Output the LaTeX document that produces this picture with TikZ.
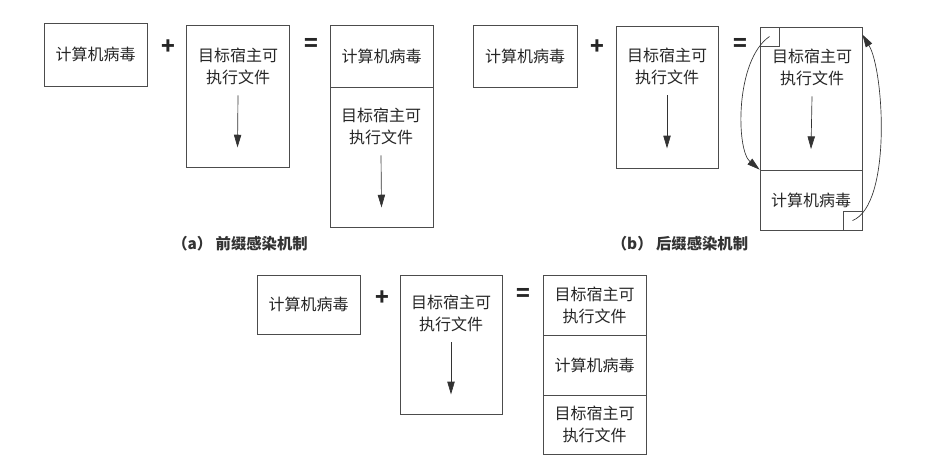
\documentclass[tikz,border=0pt]{standalone}
\usepackage{fontspec}
\setmainfont{Noto Sans CJK SC}
\usetikzlibrary{arrows.meta,positioning,fit}

\begin{document}
\begin{tikzpicture}[
  x=0.75pt, y=-0.75pt,
  box/.style={draw=black!70, line width=0.6pt, inner sep=0pt},
  txt/.style={font=\fontsize{12}{16.5}\selectfont, align=center, inner sep=1pt, text=black!85},
  op/.style={font=\fontsize{17}{17}\selectfont\bfseries, text=black!85},
  captxt/.style={font=\fontsize{11.5}{14}\selectfont\bfseries, text=black!80},
  flow/.style={draw=black!80, line width=0.5pt, -{Triangle[width=5.5pt,length=9.5pt]}}
]
  \useasboundingbox (0,0) rectangle (944,464);

  \node[box, fit={(44,23) (147,86)}] (av) {};
  \node[txt] at (av.center) (avl) {计算机病毒};
  \node[op] at (168,47) (aplus) {+};
  \node[box, fit={(186,25) (289,167)}] (ah) {};
  \node[txt] at (238,66) (ahl) {目标宿主可\\执行文件};
  \draw[flow] ([yshift=-7pt]ahl.south) -- ([yshift=15pt]ah.south);
  \node[op] at (311,45) (aeq) {=};
  \node[box, fit={(330,25) (433,87)}] (ar1) {};
  \node[box, fit={(330,87) (433,227)}] (ar2) {};
  \node[txt] at (ar1.center) (ar1l) {计算机病毒};
  \node[txt] at (381,126) (ar2l) {目标宿主可\\执行文件};
  \draw[flow] ([yshift=-7pt]ar2l.south) -- ([yshift=15pt]ar2.south);
  \node[captxt] at (240,244) (acap) {（a）\ 前缀感染机制};

  \node[box, fit={(473,25) (577,87)}] (bv) {};
  \node[txt] at (bv.center) (bvl) {计算机病毒};
  \node[op] at (597,47) (bplus) {+};
  \node[box, fit={(616,26) (718,168)}] (bh) {};
  \node[txt] at (667,66) (bhl) {目标宿主可\\执行文件};
  \draw[flow] ([yshift=-7pt]bhl.south) -- ([yshift=15pt]bh.south);
  \node[op] at (740,45) (beq) {=};
  \node[box, fit={(760,27) (862,170)}] (br1) {};
  \node[box, fit={(760,170) (862,230)}] (br2) {};
  \node[box, fit={(760,27) (779,46)}] (bs1) {};
  \node[box, fit={(843,211) (862,230)}] (bs2) {};
  \node[txt] at (812,67) (br1l) {目标宿主可\\执行文件};
  \draw[flow] ([yshift=-7pt]br1l.south) -- ([yshift=16pt]br1.south);
  \node[txt] at (br2.center) (br2l) {计算机病毒};
  \draw[flow] (bs1.center) .. controls (735,60) and (736,150) .. (br2.north west);
  \draw[flow] (bs2.center) .. controls (892,205) and (884,70) .. ([yshift=-6pt]br1.north east);
  \node[captxt] at (680,244) (bcap) {（b）\ 后缀感染机制};

  \node[box, fit={(257,275) (360,334)}] (cv) {};
  \node[txt] at (cv.center) (cvl) {计算机病毒};
  \node[op] at (382,298) (cplus) {+};
  \node[box, fit={(400,275) (502,414)}] (ch) {};
  \node[txt] at (451,313) (chl) {目标宿主可\\执行文件};
  \draw[flow] ([yshift=-7pt]chl.south) -- ([yshift=15pt]ch.south);
  \node[op] at (523,295) (ceq) {=};
  \node[box, fit={(543,275) (646,335)}] (cr1) {};
  \node[box, fit={(543,335) (646,395)}] (cr2) {};
  \node[box, fit={(543,395) (646,454)}] (cr3) {};
  \node[txt] at (cr1.center) (cr1l) {目标宿主可\\执行文件};
  \node[txt] at (cr2.center) (cr2l) {计算机病毒};
  \node[txt] at (cr3.center) (cr3l) {目标宿主可\\执行文件};
\end{tikzpicture}
\end{document}
